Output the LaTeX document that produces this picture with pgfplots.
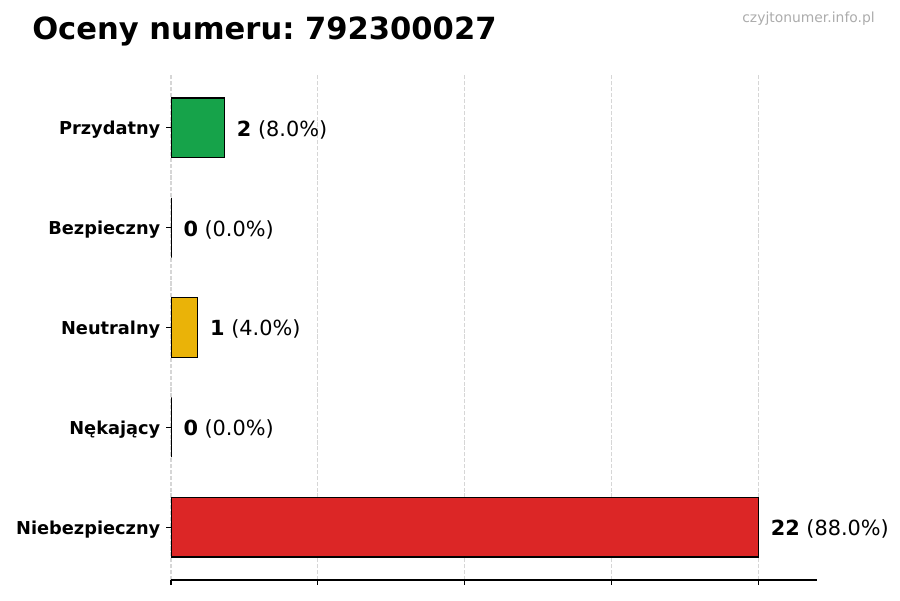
\documentclass[border=0pt]{standalone}
\usepackage{pgfplots}
\pgfplotsset{compat=1.18}
\usepackage{fontspec}
\setmainfont{DejaVu Sans}
\definecolor{cgreen}{HTML}{16A34A}
\definecolor{cyellow}{HTML}{EAB308}
\definecolor{cred}{HTML}{DC2626}
\definecolor{cgrid}{HTML}{D6D6D6}
\frenchspacing
\begin{document}
\begin{tikzpicture}
\path[use as bounding box] (0pt,0pt) rectangle (648pt,432pt);
\node[anchor=base west, inner sep=0pt, font=\fontsize{22}{26}\selectfont\bfseries] at (23.04pt,403.2pt) {Oceny numeru: 792300027};
\node[anchor=base east, inner sep=0pt, text=gray!65, font=\fontsize{10}{12}\selectfont] at (630pt,415.5pt) {czyjtonumer.info.pl};
\begin{axis}[
    at={(123.12pt,14.4pt)}, anchor=south west,
    scale only axis,
    width=465.12pt, height=363.6pt,
    xmin=0, xmax=24.2,
    ymin=-0.53, ymax=4.53,
    xbar, bar width=0.6, bar shift=0pt,
    axis x line*=bottom, axis y line*=left,
    y axis line style={draw=none},
    x axis line style={black, line width=0.8pt},
    xtick={0,5.5,11,16.5,22}, xticklabels={},
    ytick={0,1,2,3,4},
    yticklabels={\textbf{Niebezpieczny},\textbf{Nękający},\textbf{Neutralny},\textbf{Bezpieczny},\textbf{Przydatny}},
    yticklabel style={font=\fontsize{12.8}{15}\selectfont, inner sep=0pt, xshift=-4pt, yshift=-1.5pt},
    tick align=outside, major tick length=3.5pt,
    tick style={black, line width=0.8pt},
    xmajorgrids,
    grid style={cgrid, line width=0.8pt, dash pattern=on 2.96pt off 1.28pt},
    nodes near coords style={anchor=west, inner sep=0pt, xshift=8.6pt, yshift=-1.4pt, font=\fontsize{15}{18}\selectfont, text=black},
]
\addplot[fill=cgreen, draw=black, line width=0.8pt, nodes near coords={\textbf{2} (8.0\%)}] coordinates {(2,4)};
\addplot[fill=cgreen, draw=black, line width=0.8pt, nodes near coords={\textbf{0} (0.0\%)}] coordinates {(0,3)};
\addplot[fill=cyellow, draw=black, line width=0.8pt, nodes near coords={\textbf{1} (4.0\%)}] coordinates {(1,2)};
\addplot[fill=cred, draw=black, line width=0.8pt, nodes near coords={\textbf{0} (0.0\%)}] coordinates {(0,1)};
\addplot[fill=cred, draw=black, line width=0.8pt, nodes near coords={\textbf{22} (88.0\%)}] coordinates {(22,0)};
\end{axis}
\end{tikzpicture}
\end{document}
